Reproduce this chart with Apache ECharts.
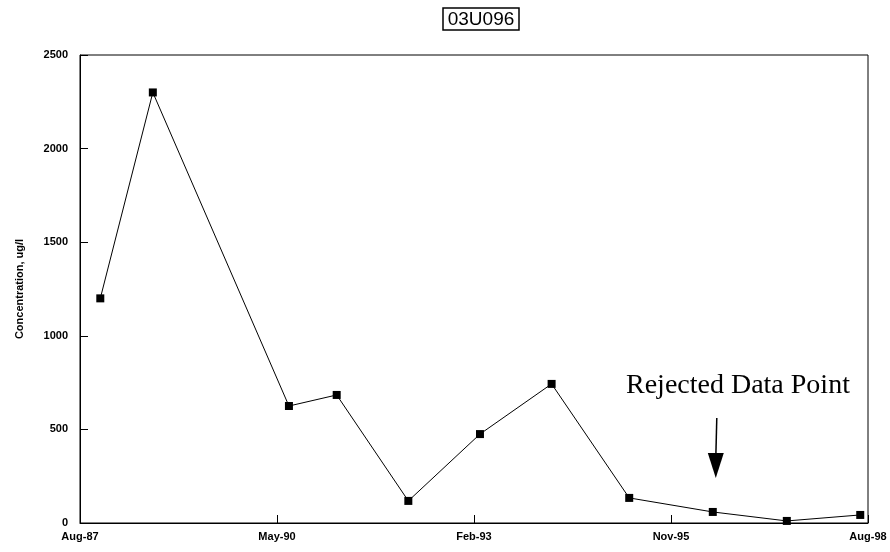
<!DOCTYPE html>
<html><head><meta charset="utf-8">
<script src="https://cdn.jsdelivr.net/npm/echarts@6/dist/echarts.min.js"></script>
<style>html,body{margin:0;padding:0;background:#fff}#c{width:890px;height:552px}</style>
</head><body><div id="c"></div>
<script>
// months since Aug-1987
const months = [3.4, 12.2, 35, 43, 55, 67, 79, 92, 106, 118.4, 130.7];
const concentration = [1200, 2300, 625, 684, 118, 475, 743, 134, 59, 11, 43];
const monthNames = ['Jan','Feb','Mar','Apr','May','Jun','Jul','Aug','Sep','Oct','Nov','Dec'];
const yTicks = [0, 500, 1000, 1500, 2000, 2500];
const rejectedIndex = 8;

function monthLabel(m) {
  const total = 1987 * 12 + 7 + Math.round(m);
  const y = Math.floor(total / 12), mo = total % 12;
  return monthNames[mo] + '-' + String(y % 100).padStart(2, '0');
}

const chart = echarts.init(document.getElementById('c'));
const data = months.map((m, i) => [m, concentration[i]]);
chart.setOption({
  animation: false,
  title: {
    text: '03U096', left: 476, top: 8, textAlign: 'center',
    borderColor: '#000', borderWidth: 1.5, padding: [2, 5, 1, 5],
    textStyle: { fontFamily: 'Liberation Sans', fontSize: 19, fontWeight: 'normal', color: '#000' }
  },
  grid: { left: 80, right: 22, top: 55, bottom: 29, show: true, borderColor: '#000', borderWidth: 1 },
  xAxis: {
    type: 'value', min: 0, max: 132, interval: 33,
    axisLine: { lineStyle: { color: '#000' } },
    axisTick: { inside: true, length: 8, lineStyle: { color: '#000' } },
    splitLine: { show: false },
    axisLabel: { formatter: v => monthLabel(v), color: '#000', fontFamily: 'Liberation Sans', fontSize: 11, fontWeight: 'bold', margin: 8 }
  },
  yAxis: {
    type: 'value', min: yTicks[0], max: yTicks[yTicks.length - 1], interval: 500,
    name: 'Concentration, ug/l', nameLocation: 'middle', nameGap: 55,
    nameTextStyle: { fontFamily: 'Liberation Sans', fontSize: 11, fontWeight: 'bold', color: '#000' },
    axisLine: { show: true, lineStyle: { color: '#000' } },
    axisTick: { inside: true, length: 8, lineStyle: { color: '#000' } },
    splitLine: { show: false },
    axisLabel: { formatter: v => String(v), color: '#000', fontFamily: 'Liberation Sans', fontSize: 11, fontWeight: 'bold', margin: 12 }
  },
  series: [{
    type: 'line', data: data, symbol: 'rect', symbolSize: 8,
    lineStyle: { color: '#000', width: 1 }, itemStyle: { color: '#000' }
  }]
});

const p = chart.convertToPixel({ gridIndex: 0 }, data[rejectedIndex]);
const ax = p[0] + 3, tipY = p[1] - 34;
chart.setOption({
  graphic: [
    { type: 'text', left: 626, top: 372, style: { text: 'Rejected Data Point', font: '28px "Liberation Serif"', fill: '#000' } },
    { type: 'line', shape: { x1: ax + 1, y1: tipY - 60, x2: ax, y2: tipY - 20 }, style: { stroke: '#000', lineWidth: 1.5 } },
    { type: 'polygon', shape: { points: [[ax - 8, tipY - 25], [ax + 8, tipY - 25], [ax, tipY]] }, style: { fill: '#000' } }
  ]
});
</script></body></html>
